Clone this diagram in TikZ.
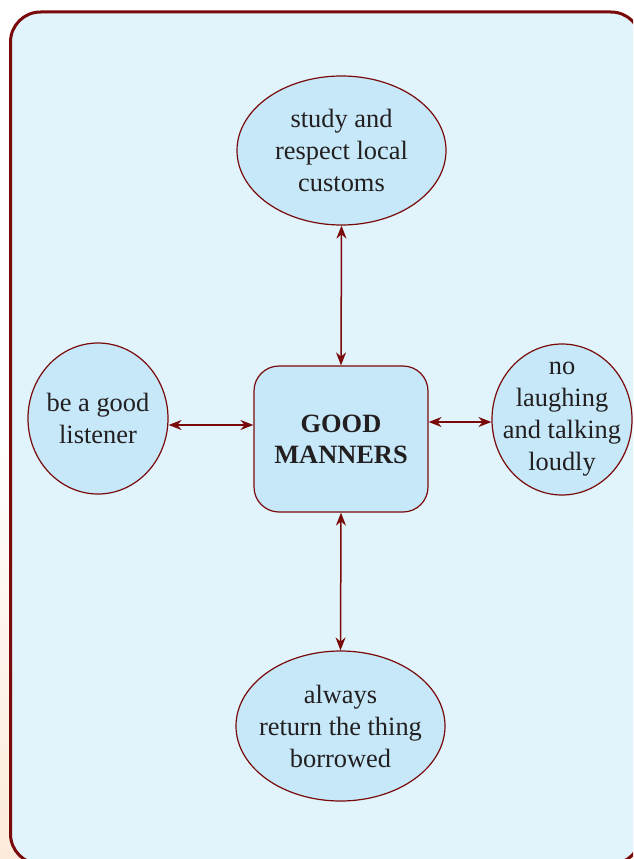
\documentclass[tikz,border=0pt]{standalone}
\usepackage{fontspec}
\setmainfont{Liberation Serif}
\usetikzlibrary{arrows.meta,shapes.geometric}
\definecolor{maroon}{HTML}{7A0A0A}
\definecolor{panel}{HTML}{E1F3FB}
\definecolor{bubble}{HTML}{C6E8F8}
\definecolor{ink}{HTML}{231F20}
\definecolor{peach}{HTML}{FCEBDA}
\tikzset{
  idea/.style={ellipse, draw=maroon, line width=1.2pt, fill=bubble, inner sep=-20pt,
    text=ink, align=center, font=\fontsize{26.4}{32}\selectfont},
  hub/.style={rectangle, rounded corners=25pt, draw=maroon, line width=1.2pt, fill=bubble,
    text=ink, align=center, inner sep=0pt, minimum width=174pt, minimum height=146pt,
    font=\fontsize{26.4}{31}\selectfont\bfseries},
  link/.style={draw=maroon, line width=1.5pt, {Stealth[length=13pt,width=10pt]}-{Stealth[length=13pt,width=10pt]}}
}
\begin{document}
\begin{tikzpicture}[x=1pt,y=-1pt]
  \useasboundingbox (0,0) rectangle (633,859);
  \clip (0,0) rectangle (633,859);
  % page background, warming towards the bottom
  \shade[top color=white, bottom color=peach, middle color=white] (0,0) rectangle (633,859);
  % framed panel
  \draw[maroon, line width=3pt, fill=panel, rounded corners=30pt] (10.5,12) rectangle (641,864);

  \node[hub] (center) at (341,439) {GOOD\\MANNERS};
  \node[idea, minimum width=209pt, minimum height=149pt] (top) at (341.5,150.5) {study and\\respect local\\customs};
  \node[idea, minimum width=140pt, minimum height=151pt] (left) at (98,418.5) {be a good\\listener};
  \node[idea, minimum width=140pt, minimum height=151pt] (right) at (562,419.5) {no\\laughing\\and talking\\loudly};
  \node[idea, minimum width=209pt, minimum height=150pt] (bottom) at (340.5,726) {always\\return the thing\\borrowed};

  \draw[link] (top.south) -- (center.north);
  \draw[link] (center.south) -- (bottom.north);
  \draw[link] (left.east |- 0,425) -- (center.west |- 0,425);
  \draw[link] (center.east |- 0,422) -- (right.west |- 0,422);
\end{tikzpicture}
\end{document}
